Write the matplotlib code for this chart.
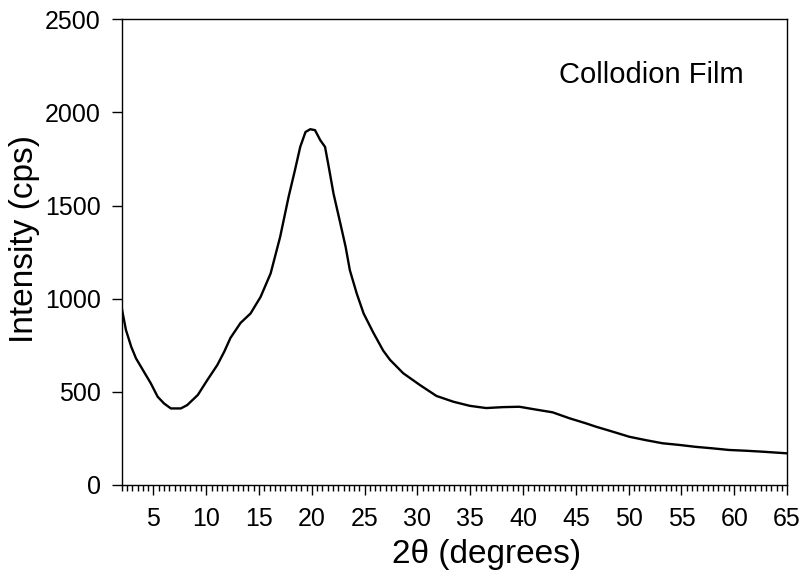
"""
X-ray diffraction pattern of a collodion film.
"""

import matplotlib
matplotlib.use("Agg")
import matplotlib.pyplot as plt
from matplotlib.ticker import MultipleLocator

# Diffraction angle, 2theta (degrees)
two_theta = [2.0, 2.4, 2.9, 3.35, 4.1, 4.75, 5.4, 6.0, 6.65, 7.6,
             8.2, 9.2, 10.1, 11.05, 11.7, 12.3, 13.25, 14.2, 15.15, 16.1,
             17.0, 17.8, 18.4, 18.9, 19.4, 19.85, 20.3, 20.8, 21.25, 21.6,
             22.05, 22.7, 23.2, 23.6, 24.25, 24.9, 25.8, 26.75, 27.4, 28.65,
             30.25, 31.8, 33.4, 34.95, 36.5, 38.1, 39.65, 41.2, 42.8, 44.4,
             45.95, 46.9, 48.5, 50.05, 51.6, 53.2, 54.8, 56.3, 57.9, 59.5,
             61.05, 62.6, 64.2, 65.0]

# Measured intensity (cps)
intensity = [950, 832, 742, 680, 608, 546, 474, 438, 411, 411,
             429, 483, 563, 644, 715, 790, 870, 921, 1010, 1136,
             1332, 1547, 1690, 1815, 1895, 1910, 1905, 1851, 1815, 1708,
             1565, 1404, 1278, 1153, 1028, 921, 820, 722, 672, 600,
             536, 478, 447, 425, 413, 418, 420, 405, 390, 358,
             331, 313, 286, 259, 241, 224, 215, 205, 197, 188,
             184, 179, 173, 170]

x_ticks = [5, 10, 15, 20, 25, 30, 35, 40, 45, 50, 55, 60, 65]
y_ticks = [0, 500, 1000, 1500, 2000, 2500]

plt.rcParams["font.family"] = ["Liberation Sans", "DejaVu Sans"]

fig = plt.figure(figsize=(8.04, 5.73), dpi=100)
ax = fig.add_axes([0.1514, 0.1536, 0.8276, 0.8127])

# The pattern itself
ax.plot(two_theta, intensity, color="black", linewidth=1.7)

# Axis limits and ticks
ax.set_xlim(2, 65)
ax.set_ylim(0, 2500)
ax.set_xticks(x_ticks)
ax.set_yticks(y_ticks)
ax.xaxis.set_minor_locator(MultipleLocator(0.5))
ax.tick_params(axis="both", which="major", direction="out", length=7,
               width=1, labelsize=18, color="black")
ax.tick_params(axis="x", which="major", pad=9)
ax.tick_params(axis="y", which="major", pad=8)
ax.tick_params(axis="x", which="minor", direction="out", length=4,
               width=1)

for spine in ax.spines.values():
    spine.set_linewidth(1)
    spine.set_color("black")

# Axis labels (placed where the original chart had them)
ax.set_xlabel("2\u03b8 (degrees)", fontsize=24)
ax.set_ylabel("Intensity (cps)", fontsize=24)
ax.xaxis.label.set_va("center")
ax.yaxis.label.set_va("center")
ax.xaxis.set_label_coords(0.548, -0.150)
ax.yaxis.set_label_coords(-0.146, 0.529)

# Sample name
ax.text(0.796, 0.88, "Collodion Film", transform=ax.transAxes,
        ha="center", va="center", fontsize=21)

fig.savefig("out.png", dpi=100)
